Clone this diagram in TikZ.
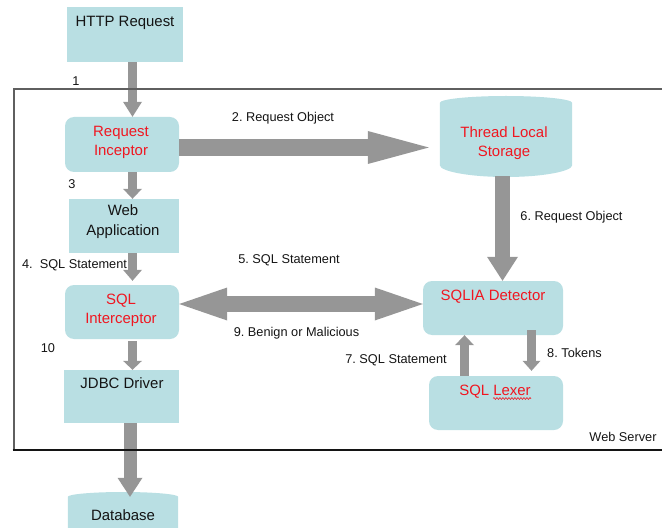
\documentclass[tikz,border=0pt]{standalone}
\usepackage{fontspec}
\setmainfont{Liberation Sans}
\usetikzlibrary{arrows.meta,backgrounds,decorations.pathmorphing}
\definecolor{boxfill}{RGB}{185,223,227}
\definecolor{arrgray}{RGB}{150,150,150}
\definecolor{txtred}{RGB}{240,22,32}
\definecolor{txtblk}{RGB}{20,20,20}
\definecolor{framegray}{RGB}{95,95,95}
\frenchspacing
\begin{document}
\begin{tikzpicture}[x=1bp,y=-1bp,
  box/.style={fill=boxfill, draw=none, inner sep=0pt},
  rbox/.style={box, rounded corners=9bp},
  btxt/.style={font=\fontsize{15}{19.5}\selectfont, align=center, inner sep=0pt, text=txtblk},
  rtxt/.style={btxt, text=txtred},
  lbl/.style={font=\fontsize{12.8}{15}\selectfont, inner sep=0pt, text=txtblk},
  arr/.style={draw=arrgray, line width=#1},
  tipA/.style={-{Triangle[length=#1,width=19bp,line width=0pt]}},
]
\useasboundingbox (0,0) rectangle (662,528);

% boxes
\node[box, minimum width=116bp, minimum height=55bp] (http) at (125,34.5) {};
\node[btxt] (httpT) at (125,23) {HTTP Request};
\node[rbox, minimum width=114bp, minimum height=55bp] (ri) at (122,144.5) {};
\node[rtxt] (riT) at (121,142.5) {Request\\Inceptor};
\node[box, minimum width=110bp, minimum height=54bp] (wa) at (124,226) {};
\node[btxt] (waT) at (123,221.5) {Web\\Application};
\node[rbox, minimum width=114bp, minimum height=54bp] (si) at (122,312) {};
\node[rtxt] (siT) at (121,310.5) {SQL\\Interceptor};
\node[box, minimum width=115bp, minimum height=53bp] (jdbc) at (121.5,396.5) {};
\node[btxt] (jdbcT) at (122,383) {JDBC Driver};
\node[btxt, minimum width=110bp, minimum height=36bp] (db) at (123,515) {Database};
\node[inner sep=0pt, minimum width=132bp, minimum height=62bp] (tls) at (506,134) {};
\node[rtxt] (tlsT) at (504,143) {Thread Local\\Storage};
\node[rbox, minimum width=140bp, minimum height=54bp] (sqlia) at (493,308) {};
\node[rtxt] (sqliaT) at (493,297) {SQLIA Detector};
\node[rbox, minimum width=134bp, minimum height=54bp] (lex) at (496,403) {};
\node[rtxt] (lexT) at (495,392) {SQL Lexer};
\draw[txtred, line width=0.6bp, decorate, decoration={snake, segment length=3bp, amplitude=0.9bp}]
  (493,398.5) -- (531,398.5);

% cylinder fills
\begin{scope}[on background layer]
  \fill[boxfill] (tls.north west) .. controls (440,99.1) and (469.6,96) .. (506,96)
    .. controls (542.4,96) and (572,99.1) .. (tls.north east) -- (tls.south east)
    .. controls (572,171.4) and (542.4,177) .. (506,177)
    .. controls (469.6,177) and (440,171.4) .. (tls.south west) -- cycle;
  \fill[boxfill] (db.north west) .. controls (68,494.2) and (92.6,492) .. (123,492)
    .. controls (153.4,492) and (178,494.2) .. (db.north east) -- (178,545) -- (68,545) -- cycle;
\end{scope}

% arrow guide coordinates
\coordinate (cx1) at (132.5,0);
\coordinate (cxd) at (130,0);
\coordinate (cx6) at (502.5,0);
\coordinate (cx7) at (464.5,0);
\coordinate (cx8) at (531.5,0);
\coordinate (cy2) at (0,147.5);
\coordinate (cy5) at (0,304);

% arrows
\draw[arr=9bp, tipA=15bp] (http.south -| cx1) -- (ri.north -| cx1);
\draw[arr=9bp, tipA=10bp] (ri.south -| cx1) -- (wa.north -| cx1);
\draw[arr=9bp, tipA=11bp, shorten >=4bp] (wa.south -| cx1) -- (si.north -| cx1);
\draw[arr=9bp, tipA=9bp, shorten <=2bp] (si.south -| cx1) -- (jdbc.north -| cx1);
\draw[arr=13bp, -{Triangle[length=19bp,width=25bp,line width=0pt]}] (jdbc.south -| cxd) -- (db.north -| cxd);
\draw[arr=17bp, -{Triangle[length=61bp,width=33bp,line width=0pt]}, shorten >=11bp] (ri.east |- cy2) -- (tls.west |- cy2);
\draw[arr=15bp, -{Triangle[length=24bp,width=31bp,line width=0pt]}, shorten <=11bp] (tls.south -| cx6) -- (sqlia.north -| cx6);
\draw[arr=16bp, {Triangle[length=48bp,width=33bp,line width=0pt]}-{Triangle[length=48bp,width=33bp,line width=0pt]}] (si.east |- cy5) -- (sqlia.west |- cy5);
\draw[arr=9bp, tipA=10bp] (lex.north -| cx7) -- (sqlia.south -| cx7);
\draw[arr=9bp, -{Triangle[length=10bp,width=18bp,line width=0pt]}, shorten <=-5bp, shorten >=5bp] (sqlia.south -| cx8) -- (lex.north -| cx8);

% labels
\node[lbl] (l1) at (76,81) {1};
\node[lbl] (l2) at (283,118) {2. Request Object};
\node[lbl] (l3) at (72,184) {3};
\node[lbl] (l4) at (74.5,265) {4.\ \ SQL Statement};
\node[lbl] (l5) at (289,260) {5. SQL Statement};
\node[lbl] (l6) at (571.5,217) {6. Request Object};
\node[lbl] (l7) at (396,360) {7. SQL Statement};
\node[lbl] (l8) at (574.5,353) {8. Tokens};
\node[lbl] (l9) at (296.5,333) {9. Benign or Malicious};
\node[lbl] (l10) at (48,348) {10};
\node[lbl] (lws) at (623,437) {Web Server};

% frame
\draw[framegray, line width=2bp] (662,89.5) -- (13.5,89.5) -- (13.5,449.5);
\draw[txtblk, line width=2bp] (12.5,449.5) -- (662,449.5);
\end{tikzpicture}
\end{document}
